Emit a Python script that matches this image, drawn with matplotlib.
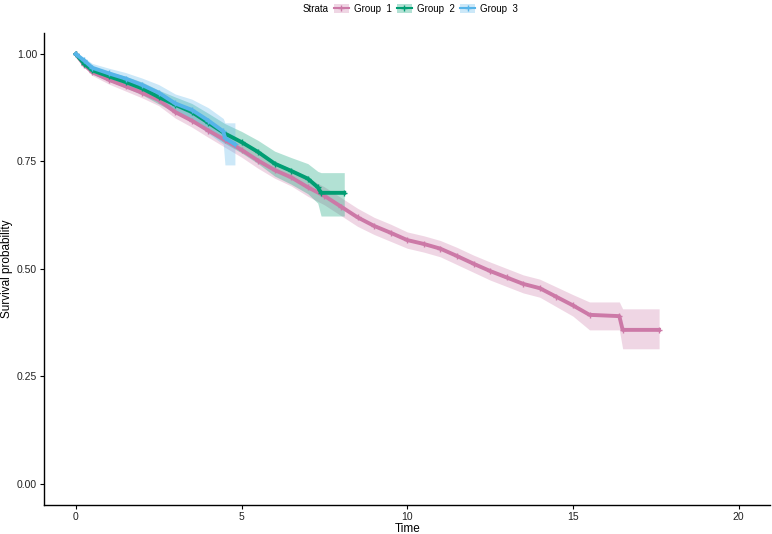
import matplotlib
matplotlib.use('Agg')
import matplotlib.pyplot as plt
from matplotlib.lines import Line2D
from matplotlib.patches import Patch

plt.rcParams['font.family'] = ['Liberation Sans', 'DejaVu Sans']

# survival curves
g1_time = [0, 0.25, 0.5, 1, 1.5, 2, 2.5, 3, 3.5, 4, 4.5, 5, 5.5, 6, 6.5, 7,
           7.5, 8, 8.5, 9, 9.5, 10, 10.5, 11, 11.5, 12, 12.5, 13, 13.5, 14,
           14.5, 15, 15.5, 16.4, 16.5, 17.6]
g1_surv = [1.0, 0.975, 0.958, 0.94, 0.925, 0.91, 0.893, 0.865, 0.845, 0.822,
           0.8, 0.777, 0.752, 0.73, 0.713, 0.69, 0.67, 0.645, 0.62, 0.6, 0.584,
           0.567, 0.558, 0.547, 0.53, 0.512, 0.495, 0.48, 0.465, 0.455, 0.435,
           0.415, 0.393, 0.39, 0.358, 0.358]
g1_low = [1.0, 0.97, 0.95, 0.93, 0.914, 0.898, 0.88, 0.851, 0.83, 0.806,
          0.783, 0.76, 0.734, 0.711, 0.693, 0.669, 0.649, 0.624, 0.599, 0.58,
          0.564, 0.548, 0.539, 0.528, 0.51, 0.492, 0.474, 0.459, 0.444, 0.434,
          0.412, 0.39, 0.358, 0.358, 0.314, 0.314]
g1_high = [1.0, 0.98, 0.966, 0.95, 0.936, 0.922, 0.906, 0.879, 0.86, 0.838,
           0.817, 0.794, 0.77, 0.749, 0.733, 0.711, 0.691, 0.666, 0.641, 0.62,
           0.604, 0.586, 0.577, 0.566, 0.55, 0.532, 0.516, 0.501, 0.486, 0.476,
           0.458, 0.44, 0.423, 0.423, 0.407, 0.407]

g2_time = [0, 0.25, 0.5, 1, 1.5, 2, 2.5, 3, 3.5, 4, 4.5, 5, 5.5, 6, 6.5, 7,
           7.3, 7.4, 8.1]
g2_surv = [1.0, 0.978, 0.962, 0.948, 0.935, 0.92, 0.9, 0.882, 0.865, 0.84,
           0.815, 0.795, 0.772, 0.745, 0.728, 0.71, 0.69, 0.677, 0.677]
g2_low = [1.0, 0.972, 0.953, 0.937, 0.922, 0.905, 0.884, 0.864, 0.845,
          0.818, 0.792, 0.77, 0.745, 0.716, 0.697, 0.675, 0.653, 0.623, 0.623]
g2_high = [1.0, 0.984, 0.971, 0.959, 0.948, 0.935, 0.916, 0.9, 0.885, 0.862,
           0.838, 0.82, 0.799, 0.774, 0.759, 0.745, 0.727, 0.724, 0.724]

g3_time = [0, 0.25, 0.5, 1, 1.5, 2, 2.5, 3, 3.5, 4, 4.45, 4.5, 4.8]
g3_surv = [1.0, 0.985, 0.968, 0.955, 0.943, 0.928, 0.91, 0.885, 0.87, 0.845,
           0.82, 0.805, 0.79]
g3_low = [1.0, 0.979, 0.958, 0.943, 0.929, 0.912, 0.891, 0.863, 0.845,
          0.815, 0.79, 0.742, 0.742]
g3_high = [1.0, 0.991, 0.978, 0.967, 0.957, 0.944, 0.929, 0.907, 0.895,
           0.875, 0.85, 0.84, 0.84]

labels = ['Group  1', 'Group  2', 'Group  3']
colors = ['#CC79A7', '#009E73', '#56B4E9']
x_ticks = [0, 5, 10, 15, 20]
y_ticks = [0.0, 0.25, 0.5, 0.75, 1.0]
y_ticklabels = ['0.00', '0.25', '0.50', '0.75', '1.00']

fig = plt.figure(figsize=(7.72, 5.34), dpi=100)
ax = fig.add_axes([0.057, 0.054, 0.941, 0.885])

groups = [
    (g1_time, g1_surv, g1_low, g1_high),
    (g2_time, g2_surv, g2_low, g2_high),
    (g3_time, g3_surv, g3_low, g3_high),
]
for (t, s, lo, hi), col in zip(groups, colors):
    ax.fill_between(t, lo, hi, color=col, alpha=0.3, linewidth=0)
for (t, s, lo, hi), col in zip(groups, colors):
    ax.plot(t, s, color=col, linewidth=2.8, marker='+', markersize=5,
            markeredgewidth=1)

ax.set_xlim(-0.96, 20.96)
ax.set_ylim(-0.05, 1.05)
ax.set_xticks(x_ticks)
ax.set_yticks(y_ticks)
ax.set_yticklabels(y_ticklabels)
ax.tick_params(labelsize=7.5, length=3, pad=2, color='black',
               labelcolor='#222222')
ax.set_xlabel('Time', fontsize=8.5, labelpad=1)
ax.set_ylabel('Survival probability', fontsize=8.5, labelpad=3)
for side in ['top', 'right']:
    ax.spines[side].set_visible(False)
for side in ['left', 'bottom']:
    ax.spines[side].set_linewidth(1)

handles = []
for col in colors:
    handles.append((Patch(facecolor=col, alpha=0.3, edgecolor='none'),
                    Line2D([], [], color=col, linewidth=1.5, marker='+',
                           markersize=4)))
fig.text(0.425, 0.984, 'Strata', fontsize=7, ha='right', va='center')
fig.legend(handles, labels, loc='center left', bbox_to_anchor=(0.432, 0.984),
           ncol=3, frameon=False, fontsize=7, handlelength=1.6,
           handleheight=1.0, handletextpad=0.5, columnspacing=0.5,
           borderaxespad=0, borderpad=0)

fig.savefig('out.png', dpi=100)
